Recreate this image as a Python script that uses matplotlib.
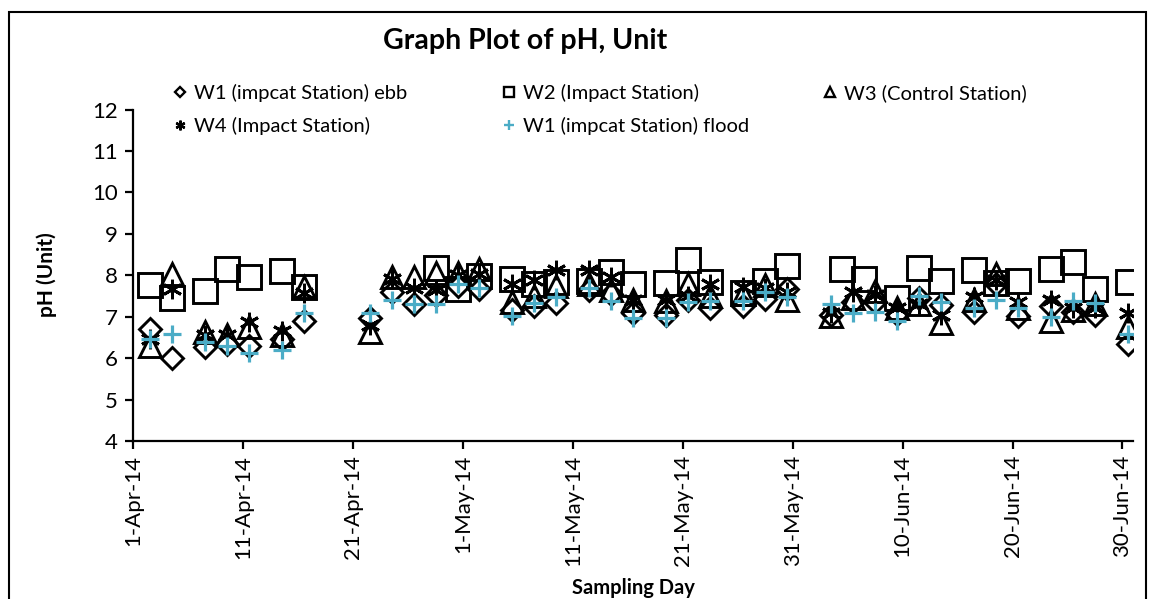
import matplotlib
matplotlib.use("Agg")
import matplotlib.pyplot as plt
import matplotlib.dates as mdates
from matplotlib.lines import Line2D
from matplotlib.patches import Rectangle
import pandas as pd
import numpy as np

plt.rcParams['font.family'] = ['Lato', 'DejaVu Sans']

# ---- data ----
dates_main = ["2014-04-02", "2014-04-04", "2014-04-07", "2014-04-09", "2014-04-11", "2014-04-14",
              "2014-04-16", "2014-04-22", "2014-04-24", "2014-04-26", "2014-04-28", "2014-04-30",
              "2014-05-02", "2014-05-05", "2014-05-07", "2014-05-09", "2014-05-12", "2014-05-14",
              "2014-05-16", "2014-05-19", "2014-05-21", "2014-05-23", "2014-05-26", "2014-05-28",
              "2014-05-30", "2014-06-03", "2014-06-05", "2014-06-07", "2014-06-09", "2014-06-11",
              "2014-06-13", "2014-06-16", "2014-06-18", "2014-06-20", "2014-06-23", "2014-06-25",
              "2014-06-27", "2014-06-30"]

w1_ebb = [6.70, 6.00, 6.28, 6.35, 6.30, 6.45, 6.90, 6.98, 7.60, 7.30, 7.52, 7.75,
          7.66, 7.15, 7.26, 7.34, 7.65, 7.55, 7.08, 7.05, 7.40, 7.21, 7.26, 7.42,
          7.68, 7.04, 7.35, 7.35, 7.06, 7.46, 7.28, 7.12, 7.78, 7.01, 7.25, 7.12,
          7.04, 6.35]

w3_control = [6.30, 8.04, 6.62, 6.55, 6.75, 6.55, 7.72, 6.62, 7.96, 7.95, 8.05, 8.05,
              8.14, 7.35, 7.50, 7.74, 7.80, 7.64, 7.40, 7.38, 7.78, 7.50, 7.55, 7.76,
              7.40, 7.02, 7.44, 7.62, 7.22, 7.30, 6.84, 7.40, 8.04, 7.20, 6.90, 7.15,
              7.30, 6.75]

w4_impact = [6.45, 7.68, 6.55, 6.55, 6.87, 6.65, 7.56, 6.80, 7.90, 7.70, 7.65, 8.00,
             8.04, 7.80, 7.88, 8.12, 8.12, 7.96, 7.40, 7.40, 7.50, 7.80, 7.72, 7.70,
             7.60, 7.08, 7.60, 7.52, 7.20, 7.30, 7.04, 7.48, 7.88, 7.35, 7.40, 7.20,
             7.20, 7.08]

w1_flood = [6.47, 6.58, 6.40, 6.30, 6.13, 6.19, 7.08, 7.10, 7.40, 7.30, 7.30, 7.80,
            7.70, 7.02, 7.32, 7.48, 7.70, 7.38, 6.98, 6.98, 7.36, 7.38, 7.38, 7.60,
            7.48, 7.30, 7.09, 7.12, 6.89, 7.50, 7.36, 7.20, 7.40, 7.20, 7.00, 7.37,
            7.32, 6.59]

dates_w2 = ["2014-04-02", "2014-04-04", "2014-04-07", "2014-04-09", "2014-04-11", "2014-04-14",
            "2014-04-16", "2014-04-28", "2014-04-30", "2014-05-02", "2014-05-05", "2014-05-07",
            "2014-05-09", "2014-05-12", "2014-05-14", "2014-05-16", "2014-05-19", "2014-05-21",
            "2014-05-23", "2014-05-26", "2014-05-28", "2014-05-30", "2014-06-04", "2014-06-06",
            "2014-06-09", "2014-06-11", "2014-06-13", "2014-06-16", "2014-06-18", "2014-06-20",
            "2014-06-23", "2014-06-25", "2014-06-27", "2014-06-30"]
w2_impact = [7.76, 7.46, 7.62, 8.16, 7.96, 8.11, 7.71, 8.17, 7.68, 7.99, 7.90, 7.80,
             7.83, 7.85, 8.09, 7.80, 7.82, 8.37, 7.84, 7.58, 7.85, 8.22, 8.16, 7.92,
             7.45, 8.18, 7.85, 8.12, 7.82, 7.87, 8.14, 8.32, 7.68, 7.83]

labels = ["W1 (impcat Station) ebb", "W2 (Impact Station)", "W3 (Control Station)",
          "W4 (Impact Station)", "W1 (impcat Station) flood"]
title = "Graph Plot of pH, Unit"
xlabel = "Sampling Day"
ylabel = "pH (Unit)"

# ---- figure ----
W, H = 1150, 599
fig = plt.figure(figsize=(W / 100, H / 100), dpi=100)
fig.patches.append(Rectangle((9 / W, -0.01), (1146 - 9) / W, 1.01 - 12 / H,
                             transform=fig.transFigure, fill=False,
                             edgecolor='black', linewidth=1.5))

ax = fig.add_axes([133.3 / W, 1 - 441 / H, (1133.4 - 133.3) / W, (441 - 109.5) / H])

half_day = pd.Timedelta(hours=12)
xm = pd.to_datetime(dates_main) + half_day
xw2 = pd.to_datetime(dates_w2) + half_day

blue = '#4BACC6'
ew = 2.1
ax.plot(xm, w1_ebb, linestyle='none', marker='D', markersize=11.5,
        markerfacecolor='none', markeredgecolor='black', markeredgewidth=ew)
ax.plot(xw2, w2_impact, linestyle='none', marker='s', markersize=17,
        markerfacecolor='none', markeredgecolor='black', markeredgewidth=ew)
ax.plot(xm, w3_control, linestyle='none', marker='^', markersize=16,
        markerfacecolor='none', markeredgecolor='black', markeredgewidth=ew)
ax.plot(xm, w4_impact, linestyle='none', marker=(6, 2, 0), markersize=14,
        markerfacecolor='none', markeredgecolor='black', markeredgewidth=ew)
ax.plot(xm, w1_flood, linestyle='none', marker='+', markersize=13,
        markeredgecolor=blue, markeredgewidth=2.3)

ax.set_xlim(pd.Timestamp("2014-04-01"), pd.Timestamp("2014-07-01"))
ax.set_ylim(4, 12)
ax.set_yticks(np.arange(4, 13, 1))
ticks = pd.date_range("2014-04-01", "2014-06-30", freq="10D")
ax.set_xticks(ticks)
ax.xaxis.set_major_formatter(matplotlib.ticker.FuncFormatter(
    lambda v, pos: (lambda d: f"{d.day}-{d.strftime('%b-%y')}")(mdates.num2date(v))))
for lab in ax.get_xticklabels():
    lab.set_rotation(90)

for s in ['top', 'right']:
    ax.spines[s].set_visible(False)
for s in ['left', 'bottom']:
    ax.spines[s].set_linewidth(1.6)
    ax.spines[s].set_color('black')
ax.tick_params(axis='both', direction='out', length=6, width=1.6, labelsize=16, colors='black')
ax.tick_params(axis='x', pad=4)
ax.tick_params(axis='y', pad=5)

fig.text(0.5 * (133.3 + 1133.4) / W, 1 - 588 / H, xlabel, ha='center', va='center',
         fontsize=14.5, fontweight='bold')
fig.text(47 / W, 1 - 275 / H, ylabel, ha='center', va='center', rotation=90,
         fontsize=15, fontweight='bold')
fig.text(525 / W, 1 - 41 / H, title, ha='center', va='center', fontsize=20.5, fontweight='bold')

# legend handles (small markers)
def mk(marker, size, color='black'):
    return Line2D([], [], linestyle='none', marker=marker, markersize=size,
                  markerfacecolor='none', markeredgecolor=color, markeredgewidth=1.7)

lh = [mk('D', 5), mk('s', 7), mk('^', 7), mk((6, 2, 0), 7), mk('+', 7, blue)]
columns = [([lh[0], lh[3]], [labels[0], labels[3]], 172),
           ([lh[1], lh[4]], [labels[1], labels[4]], 501),
           ([lh[2]], [labels[2]], 822)]
for hs, ls, x0 in columns:
    fig.legend(hs, ls, loc='upper left', bbox_to_anchor=(x0 / W, 1 - 84 / H), ncol=1,
               frameon=False, fontsize=14.5, handlelength=0.8, handletextpad=0.3,
               labelspacing=0.75, borderpad=0, borderaxespad=0)

fig.savefig("out.png", dpi=100)
